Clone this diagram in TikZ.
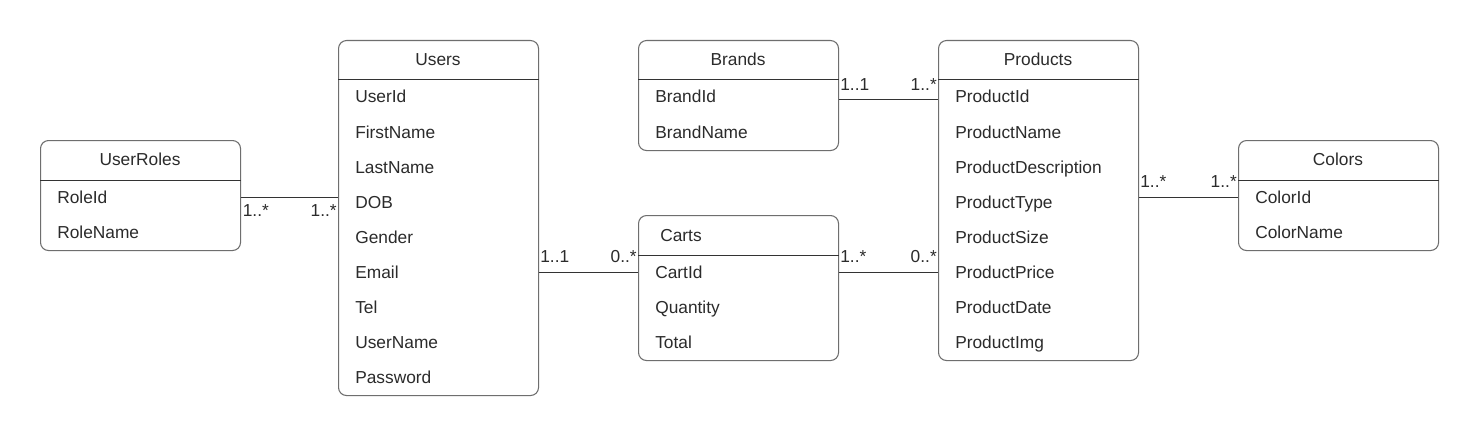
\documentclass[tikz,border=0pt]{standalone}
\usepackage{fontspec}
\setmainfont{Liberation Sans}
\usetikzlibrary{calc}
\definecolor{bord}{HTML}{6E6E6E}
\definecolor{lnkc}{HTML}{333333}
\definecolor{txt}{HTML}{2B2B2B}
\begin{document}
\begin{tikzpicture}[x=0.75pt,y=-0.75pt,font=\fontsize{13}{15}\selectfont,text=txt]
\tikzset{
  ent/.style={draw=bord,line width=0.8pt,rounded corners=6pt,inner sep=0pt,anchor=north west,minimum width=150pt},
  hdr/.style={draw=lnkc,line width=0.75pt},
  row/.style={anchor=base west,inner sep=0pt},
  ttl/.style={anchor=base,inner sep=0pt},
  lnk/.style={draw=lnkc,line width=0.75pt},
  multl/.style={anchor=base west,inner sep=0pt},
  multr/.style={anchor=base east,inner sep=0pt}
}
\fill[white] (0,0) rectangle (1478,435);
\useasboundingbox (0,0) rectangle (1478,435);

% UserRoles
\node[ent,minimum height=82.5pt] (ur) at (40,140) {};
\draw[hdr] ($(ur.north west)+(0,40)$) -- ($(ur.north east)+(0,40)$);
\node[ttl] (urt) at (140,166) {UserRoles};
\node[row] (ur1) at (57,203) {RoleId};
\node[row] (ur2) at (57,238) {RoleName};

% Users
\node[ent,minimum height=266.25pt] (us) at (338,40) {};
\draw[hdr] ($(us.north west)+(0,40)$) -- ($(us.north east)+(0,40)$);
\node[ttl] (ust) at (438,66) {Users};
\node[row] (us1) at (355,103) {UserId};
\node[row] (us2) at (355,138) {FirstName};
\node[row] (us3) at (355,173) {LastName};
\node[row] (us4) at (355,208) {DOB};
\node[row] (us5) at (355,243) {Gender};
\node[row] (us6) at (355,278) {Email};
\node[row] (us7) at (355,313) {Tel};
\node[row] (us8) at (355,348) {UserName};
\node[row] (us9) at (355,383) {Password};

% Brands
\node[ent,minimum height=82.5pt] (br) at (638,40) {};
\draw[hdr] ($(br.north west)+(0,40)$) -- ($(br.north east)+(0,40)$);
\node[ttl] (brt) at (738,66) {Brands};
\node[row] (br1) at (655,103) {BrandId};
\node[row] (br2) at (655,138) {BrandName};

% Carts
\node[ent,minimum height=108.75pt] (ca) at (638,215) {};
\draw[hdr] ($(ca.north west)+(0,40)$) -- ($(ca.north east)+(0,40)$);
\node[row] (cat) at (660,241) {Carts};
\node[row] (ca1) at (655,278) {CartId};
\node[row] (ca2) at (655,313) {Quantity};
\node[row] (ca3) at (655,348) {Total};

% Products
\node[ent,minimum height=240pt] (pr) at (938,40) {};
\draw[hdr] ($(pr.north west)+(0,40)$) -- ($(pr.north east)+(0,40)$);
\node[ttl] (prt) at (1038,66) {Products};
\node[row] (pr1) at (955,103) {ProductId};
\node[row] (pr2) at (955,138) {ProductName};
\node[row] (pr3) at (955,173) {ProductDescription};
\node[row] (pr4) at (955,208) {ProductType};
\node[row] (pr5) at (955,243) {ProductSize};
\node[row] (pr6) at (955,278) {ProductPrice};
\node[row] (pr7) at (955,313) {ProductDate};
\node[row] (pr8) at (955,348) {ProductImg};

% Colors
\node[ent,minimum height=82.5pt] (co) at (1238,140) {};
\draw[hdr] ($(co.north west)+(0,40)$) -- ($(co.north east)+(0,40)$);
\node[ttl] (cot) at (1338,166) {Colors};
\node[row] (co1) at (1255,203) {ColorId};
\node[row] (co2) at (1255,238) {ColorName};

% Connectors
\draw[lnk] ($(ur.north east)+(0,57)$) coordinate (a1) -- (a1 -| us.west) coordinate (a2);
\node[multl] (m1) at ($(a1)+(1.5,19)$) {1..*};
\node[multr] (m2) at ($(a2)+(-1,19)$) {1..*};

\draw[lnk] ($(us.north east)+(0,232)$) coordinate (b1) -- (b1 -| ca.west) coordinate (b2);
\node[multl] (m3) at ($(b1)+(1,-10)$) {1..1};
\node[multr] (m4) at ($(b2)+(-1,-10)$) {0..*};

\draw[lnk] ($(ca.north east)+(0,57)$) coordinate (c1) -- (c1 -| pr.west) coordinate (c2);
\node[multl] (m5) at ($(c1)+(1,-10)$) {1..*};
\node[multr] (m6) at ($(c2)+(-1,-10)$) {0..*};

\draw[lnk] ($(br.north east)+(0,60)$) coordinate (d1) -- (d1 -| pr.west) coordinate (d2);
\node[multl] (m7) at ($(d1)+(1,-10)$) {1..1};
\node[multr] (m8) at ($(d2)+(-1,-10)$) {1..*};

\draw[lnk] ($(pr.north east)+(0,157)$) coordinate (e1) -- (e1 -| co.west) coordinate (e2);
\node[multl] (m9) at ($(e1)+(1,-10)$) {1..*};
\node[multr] (m10) at ($(e2)+(-1,-10)$) {1..*};
\end{tikzpicture}
\end{document}
